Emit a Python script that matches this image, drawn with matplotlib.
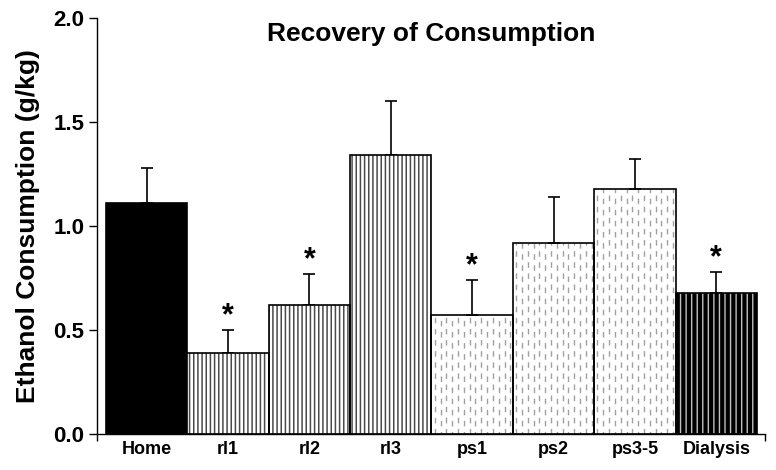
import numpy as np
import matplotlib
matplotlib.use("Agg")
import matplotlib.pyplot as plt

plt.rcParams['font.family'] = ['Liberation Sans', 'DejaVu Sans']
plt.rcParams['font.weight'] = 'bold'

# data
groups = ["Home", "rl1", "rl2", "rl3", "ps1", "ps2", "ps3-5", "Dialysis"]
means = [1.11, 0.39, 0.62, 1.34, 0.57, 0.92, 1.18, 0.68]
sem = [0.17, 0.11, 0.15, 0.26, 0.17, 0.22, 0.14, 0.10]
signif = [False, True, True, False, True, False, False, True]
kind = ["solid", "rl", "rl", "rl", "ps", "ps", "ps", "dial"]

fig = plt.figure(figsize=(7.76, 4.70), dpi=100)
ax = fig.add_axes([0.125, 0.0766, 0.861, 0.885])

x = np.arange(len(groups))
w = 1.0

for i, k in enumerate(kind):
    if k == "solid":
        ax.bar(x[i], means[i], w, color="black", edgecolor="black", lw=1.2, zorder=2)
    elif k == "rl":
        with plt.rc_context({'hatch.linewidth': 1.1}):
            ax.bar(x[i], means[i], w, color="white", edgecolor="#4a4a4a", hatch="||||", lw=0, zorder=2)
        ax.bar(x[i], means[i], w, fill=False, edgecolor="black", lw=1.2, zorder=3)
    elif k == "dial":
        with plt.rc_context({'hatch.linewidth': 1.0}):
            ax.bar(x[i], means[i], w, color="black", edgecolor="#c0c0c0", hatch="|||", lw=0, zorder=2)
        ax.bar(x[i], means[i], w, fill=False, edgecolor="black", lw=1.2, zorder=3)
    else:
        bars = ax.bar(x[i], means[i], w, color="white", edgecolor="black", lw=1.2, zorder=3)
        bars[0].set_facecolor("none")
        left = x[i] - w / 2
        xs = np.arange(left + 0.04, left + w, 0.0715)
        for j, xx in enumerate(xs):
            ax.vlines(xx, 0, means[i], colors="#a0a0a0", lw=1.0,
                      linestyles=(2.2 * (j % 2), (4.0, 4.0)), zorder=2)

ax.errorbar(x, means, yerr=[np.zeros(len(sem)), sem], fmt="none", ecolor="black",
            elinewidth=1.2, capsize=4, capthick=1.2, zorder=1)

for i in range(len(groups)):
    if signif[i]:
        ax.annotate("*", (x[i], means[i] + sem[i]), xytext=(0, -1), textcoords="offset points",
                    ha="center", va="bottom", fontsize=22, fontweight="bold")

ax.text(0.5, 0.99, "Recovery of Consumption", transform=ax.transAxes, ha="center", va="top",
        fontsize=19, fontweight="bold")

ax.set_xlim(-0.61, 7.6)
ax.set_ylim(0, 2.0)
ax.set_yticks([0.0, 0.5, 1.0, 1.5, 2.0])
ax.set_yticklabels(["0.0", "0.5", "1.0", "1.5", "2.0"], fontsize=16, fontweight="bold")
ax.set_xticks(x)
ax.set_xticklabels(groups, fontsize=13, fontweight="bold")
ax.set_xticks([-0.61, 7.6], minor=True)
ax.tick_params(axis="x", which="major", length=0, pad=5)
ax.tick_params(axis="x", which="minor", length=5, width=1, direction="out")
ax.tick_params(axis="y", length=6, width=1, direction="out", pad=3)
ax.set_ylabel("Ethanol Consumption (g/kg)", fontsize=19, fontweight="bold", labelpad=10)

ax.spines["top"].set_visible(False)
ax.spines["right"].set_visible(False)
ax.spines["left"].set_linewidth(1)
ax.spines["bottom"].set_linewidth(1)

fig.savefig("out.png", dpi=100)
